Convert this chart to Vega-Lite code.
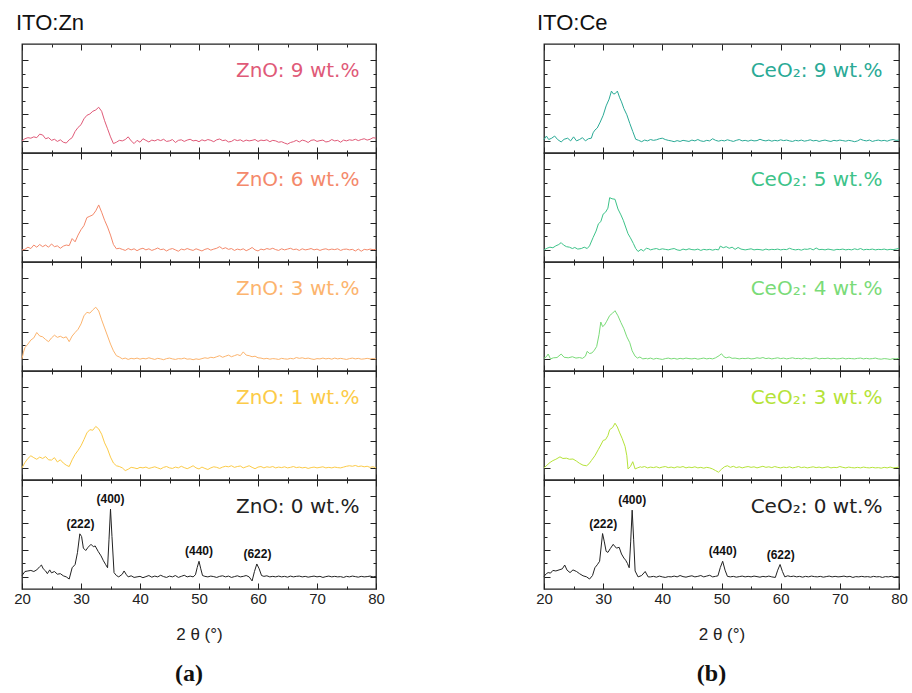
{
"$schema": "https://vega.github.io/schema/vega-lite/v6.json",
"background": "white",
"padding": {"left": 13, "top": 11, "right": 5, "bottom": 5},
"config": {"view": {"stroke": "#222", "strokeWidth": 1.3}, "title": {"font": "Liberation Sans", "fontWeight": "normal", "color": "#111"}},
"datasets": {
"labels": [
{"s":"Zn9","label":"ZnO: 9 wt.%"},{"s":"Zn6","label":"ZnO: 6 wt.%"},{"s":"Zn3","label":"ZnO: 3 wt.%"},{"s":"Zn1","label":"ZnO: 1 wt.%"},{"s":"Zn0","label":"ZnO: 0 wt.%"},
{"s":"Ce9","label":"CeO₂: 9 wt.%"},{"s":"Ce5","label":"CeO₂: 5 wt.%"},{"s":"Ce4","label":"CeO₂: 4 wt.%"},{"s":"Ce3","label":"CeO₂: 3 wt.%"},{"s":"Ce0","label":"CeO₂: 0 wt.%"}
],
"peaks": [
{"c":"Zn","hkl":"(222)","x":29.9,"y":1.61},{"c":"Zn","hkl":"(400)","x":35.0,"y":2.52},{"c":"Zn","hkl":"(440)","x":50.0,"y":0.58},{"c":"Zn","hkl":"(622)","x":59.9,"y":0.48},
{"c":"Ce","hkl":"(222)","x":30.0,"y":1.61},{"c":"Ce","hkl":"(400)","x":34.9,"y":2.48},{"c":"Ce","hkl":"(440)","x":50.2,"y":0.58},{"c":"Ce","hkl":"(622)","x":60.0,"y":0.46}
],
"Zn9": [
{"x":20,"y":0},{"x":20.5,"y":0.08},{"x":21,"y":0.12},{"x":21.5,"y":0.1},{"x":22,"y":0.15},{"x":22.5,"y":0.12},{"x":23,"y":0.25},{"x":23.5,"y":0.22},{"x":24,"y":0.08},{"x":24.5,"y":0.12},{"x":25,"y":0.02},{"x":25.5,"y":0.06},{"x":26,"y":-0.02},{"x":26.5,"y":0.04},{"x":27,"y":-0.05},{"x":27.5,"y":-0.08},{"x":28,"y":0.04},{"x":28.5,"y":0.12},{"x":29,"y":0.35},{"x":29.5,"y":0.5},{"x":30,"y":0.6},{"x":30.5,"y":0.82},{"x":31,"y":0.95},{"x":31.5,"y":1.0},{"x":32,"y":1.1},{"x":32.5,"y":1.15},{"x":33,"y":1.25},{"x":33.5,"y":1.1},{"x":34,"y":0.75},{"x":34.5,"y":0.45},{"x":35,"y":0.15},{"x":35.5,"y":-0.1},{"x":36,"y":-0.05},{"x":36.5,"y":0.02},{"x":37,"y":0},{"x":37.5,"y":0.05},{"x":38,"y":0.15},{"x":38.5,"y":0},{"x":39,"y":-0.1},{"x":39.5,"y":0.02},{"x":40,"y":-0.05},{"x":40.5,"y":0.08},{"x":41,"y":0.02},{"x":41.5,"y":-0.04},{"x":42,"y":0.03},{"x":42.5,"y":0},{"x":43,"y":0.05},{"x":43.5,"y":0.01},{"x":44,"y":0.06},{"x":44.5,"y":-0.02},{"x":45,"y":0},{"x":45.5,"y":0.05},{"x":46,"y":-0.06},{"x":46.5,"y":0.02},{"x":47,"y":0.04},{"x":47.5,"y":-0.02},{"x":48,"y":0.03},{"x":48.5,"y":0.06},{"x":49,"y":0},{"x":49.5,"y":0.02},{"x":50,"y":-0.03},{"x":50.5,"y":0.04},{"x":51,"y":0},{"x":51.5,"y":0.05},{"x":52,"y":0.02},{"x":52.5,"y":-0.03},{"x":53,"y":0.04},{"x":53.5,"y":0.07},{"x":54,"y":0.01},{"x":54.5,"y":0.03},{"x":55,"y":-0.04},{"x":55.5,"y":-0.02},{"x":56,"y":0.05},{"x":56.5,"y":0.01},{"x":57,"y":0.04},{"x":57.5,"y":-0.02},{"x":58,"y":0.03},{"x":58.5,"y":0},{"x":59,"y":0.02},{"x":59.5,"y":0.05},{"x":60,"y":-0.02},{"x":60.5,"y":0.03},{"x":61,"y":0.01},{"x":61.5,"y":0.04},{"x":62,"y":-0.03},{"x":62.5,"y":0.02},{"x":63,"y":0},{"x":63.5,"y":-0.05},{"x":64,"y":-0.03},{"x":64.5,"y":-0.08},{"x":65,"y":-0.12},{"x":65.5,"y":-0.06},{"x":66,"y":-0.03},{"x":66.5,"y":0.02},{"x":67,"y":-0.04},{"x":67.5,"y":0.03},{"x":68,"y":0},{"x":68.5,"y":-0.06},{"x":69,"y":0.02},{"x":69.5,"y":0.04},{"x":70,"y":-0.02},{"x":70.5,"y":0.01},{"x":71,"y":0.03},{"x":71.5,"y":-0.04},{"x":72,"y":-0.02},{"x":72.5,"y":0.05},{"x":73,"y":0},{"x":73.5,"y":0.02},{"x":74,"y":-0.05},{"x":74.5,"y":0.03},{"x":75,"y":0},{"x":75.5,"y":0.04},{"x":76,"y":0.02},{"x":76.5,"y":0.06},{"x":77,"y":0.01},{"x":77.5,"y":0.05},{"x":78,"y":0.08},{"x":78.5,"y":0.03},{"x":79,"y":0.06},{"x":79.5,"y":0.12},{"x":80,"y":0.1}
],
"Zn6": [
{"x":20,"y":0},{"x":20.5,"y":0.02},{"x":21,"y":0.1},{"x":21.5,"y":0.05},{"x":22,"y":0.18},{"x":22.5,"y":0.1},{"x":23,"y":0.2},{"x":23.5,"y":0.12},{"x":24,"y":0.18},{"x":24.5,"y":0.1},{"x":25,"y":0.22},{"x":25.5,"y":0.12},{"x":26,"y":0.15},{"x":26.5,"y":0.06},{"x":27,"y":0.14},{"x":27.5,"y":0.18},{"x":28,"y":0.16},{"x":28.5,"y":0.42},{"x":29,"y":0.3},{"x":29.5,"y":0.55},{"x":30,"y":0.75},{"x":30.5,"y":0.9},{"x":31,"y":1.2},{"x":31.5,"y":1.25},{"x":32,"y":1.3},{"x":32.5,"y":1.45},{"x":33,"y":1.67},{"x":33.5,"y":1.4},{"x":34,"y":1.1},{"x":34.5,"y":0.85},{"x":35,"y":0.55},{"x":35.5,"y":0.2},{"x":36,"y":0.04},{"x":36.5,"y":0.06},{"x":37,"y":0.02},{"x":37.5,"y":-0.02},{"x":38,"y":0.05},{"x":38.5,"y":0},{"x":39,"y":0.04},{"x":39.5,"y":-0.03},{"x":40,"y":0.03},{"x":40.5,"y":0.06},{"x":41,"y":0},{"x":41.5,"y":0.04},{"x":42,"y":-0.02},{"x":42.5,"y":0.02},{"x":43,"y":0.07},{"x":43.5,"y":0.01},{"x":44,"y":0.03},{"x":44.5,"y":-0.04},{"x":45,"y":0.02},{"x":45.5,"y":0.05},{"x":46,"y":0},{"x":46.5,"y":-0.05},{"x":47,"y":0.03},{"x":47.5,"y":0},{"x":48,"y":0.05},{"x":48.5,"y":0.01},{"x":49,"y":-0.02},{"x":49.5,"y":0.04},{"x":50,"y":0},{"x":50.5,"y":-0.04},{"x":51,"y":0.02},{"x":51.5,"y":0.05},{"x":52,"y":-0.01},{"x":52.5,"y":0.03},{"x":53,"y":0.06},{"x":53.5,"y":0.12},{"x":54,"y":0.04},{"x":54.5,"y":0.08},{"x":55,"y":0.02},{"x":55.5,"y":0.05},{"x":56,"y":-0.02},{"x":56.5,"y":0.03},{"x":57,"y":0},{"x":57.5,"y":0.04},{"x":58,"y":-0.03},{"x":58.5,"y":0.02},{"x":59,"y":0.09},{"x":59.5,"y":0},{"x":60,"y":-0.04},{"x":60.5,"y":0.03},{"x":61,"y":0},{"x":61.5,"y":0.05},{"x":62,"y":0.02},{"x":62.5,"y":0.06},{"x":63,"y":0.01},{"x":63.5,"y":-0.02},{"x":64,"y":0.04},{"x":64.5,"y":0},{"x":65,"y":0.03},{"x":65.5,"y":0.06},{"x":66,"y":0.01},{"x":66.5,"y":0.03},{"x":67,"y":-0.02},{"x":67.5,"y":0.04},{"x":68,"y":0},{"x":68.5,"y":0.02},{"x":69,"y":0.05},{"x":69.5,"y":0},{"x":70,"y":0.03},{"x":70.5,"y":-0.02},{"x":71,"y":0.02},{"x":71.5,"y":0.04},{"x":72,"y":0},{"x":72.5,"y":0.03},{"x":73,"y":0.01},{"x":73.5,"y":0.04},{"x":74,"y":-0.02},{"x":74.5,"y":0.02},{"x":75,"y":0.03},{"x":75.5,"y":0},{"x":76,"y":0.02},{"x":76.5,"y":-0.04},{"x":77,"y":0.03},{"x":77.5,"y":-0.05},{"x":78,"y":0.02},{"x":78.5,"y":0},{"x":79,"y":0.03},{"x":79.5,"y":0.01},{"x":80,"y":0.02}
],
"Zn3": [
{"x":20,"y":0},{"x":20.25,"y":0.25},{"x":20.5,"y":0.42},{"x":21,"y":0.55},{"x":21.5,"y":0.7},{"x":22,"y":0.78},{"x":22.5,"y":0.98},{"x":23,"y":0.85},{"x":23.5,"y":0.82},{"x":24,"y":0.72},{"x":24.5,"y":0.64},{"x":25,"y":0.78},{"x":25.5,"y":0.88},{"x":26,"y":0.8},{"x":26.5,"y":0.84},{"x":27,"y":0.78},{"x":27.5,"y":0.82},{"x":28,"y":0.64},{"x":28.5,"y":0.85},{"x":29,"y":0.98},{"x":29.5,"y":1.1},{"x":30,"y":1.3},{"x":30.5,"y":1.6},{"x":31,"y":1.73},{"x":31.5,"y":1.7},{"x":32,"y":1.82},{"x":32.5,"y":1.92},{"x":33,"y":1.78},{"x":33.5,"y":1.45},{"x":34,"y":1.15},{"x":34.5,"y":0.85},{"x":35,"y":0.55},{"x":35.5,"y":0.3},{"x":36,"y":0.12},{"x":36.5,"y":0.07},{"x":37,"y":0},{"x":37.5,"y":0.03},{"x":38,"y":-0.02},{"x":38.5,"y":0.02},{"x":39,"y":0},{"x":39.5,"y":0.03},{"x":40,"y":-0.01},{"x":40.5,"y":0.02},{"x":41,"y":0},{"x":41.5,"y":0.04},{"x":42,"y":0.01},{"x":42.5,"y":-0.02},{"x":43,"y":0.02},{"x":43.5,"y":0},{"x":44,"y":-0.03},{"x":44.5,"y":0.01},{"x":45,"y":0.03},{"x":45.5,"y":0},{"x":46,"y":-0.02},{"x":46.5,"y":0.01},{"x":47,"y":0},{"x":47.5,"y":0.03},{"x":48,"y":-0.01},{"x":48.5,"y":0},{"x":49,"y":-0.03},{"x":49.5,"y":0},{"x":50,"y":-0.02},{"x":50.5,"y":0.01},{"x":51,"y":0.04},{"x":51.5,"y":0.02},{"x":52,"y":0.06},{"x":52.5,"y":0.04},{"x":53,"y":0.08},{"x":53.5,"y":0.12},{"x":54,"y":0.06},{"x":54.5,"y":0.1},{"x":55,"y":0.14},{"x":55.5,"y":0.08},{"x":56,"y":0.12},{"x":56.5,"y":0.16},{"x":57,"y":0.12},{"x":57.5,"y":0.26},{"x":58,"y":0.14},{"x":58.5,"y":0.12},{"x":59,"y":0.08},{"x":59.5,"y":0.1},{"x":60,"y":0.04},{"x":60.5,"y":0.03},{"x":61,"y":0},{"x":61.5,"y":0.02},{"x":62,"y":-0.01},{"x":62.5,"y":0.01},{"x":63,"y":0},{"x":63.5,"y":-0.02},{"x":64,"y":0.02},{"x":64.5,"y":0},{"x":65,"y":-0.01},{"x":65.5,"y":0.02},{"x":66,"y":0},{"x":66.5,"y":0.05},{"x":67,"y":0.02},{"x":67.5,"y":0.04},{"x":68,"y":0.01},{"x":68.5,"y":0.03},{"x":69,"y":0},{"x":69.5,"y":-0.02},{"x":70,"y":0.01},{"x":70.5,"y":0},{"x":71,"y":0.03},{"x":71.5,"y":0},{"x":72,"y":0.02},{"x":72.5,"y":-0.01},{"x":73,"y":0.03},{"x":73.5,"y":0},{"x":74,"y":0.02},{"x":74.5,"y":0},{"x":75,"y":-0.02},{"x":75.5,"y":0.01},{"x":76,"y":0.03},{"x":76.5,"y":0},{"x":77,"y":0.02},{"x":77.5,"y":-0.01},{"x":78,"y":0},{"x":78.5,"y":0.02},{"x":79,"y":0},{"x":79.5,"y":0.01},{"x":80,"y":0}
],
"Zn1": [
{"x":20,"y":0},{"x":20.5,"y":0.2},{"x":21,"y":0.35},{"x":21.5,"y":0.45},{"x":22,"y":0.38},{"x":22.5,"y":0.32},{"x":23,"y":0.4},{"x":23.5,"y":0.35},{"x":24,"y":0.42},{"x":24.5,"y":0.3},{"x":25,"y":0.29},{"x":25.5,"y":0.38},{"x":26,"y":0.22},{"x":26.5,"y":0.3},{"x":27,"y":0.18},{"x":27.5,"y":0.1},{"x":28,"y":0.05},{"x":28.5,"y":0.3},{"x":29,"y":0.5},{"x":29.5,"y":0.65},{"x":30,"y":0.82},{"x":30.5,"y":1.05},{"x":31,"y":1.3},{"x":31.5,"y":1.42},{"x":32,"y":1.4},{"x":32.5,"y":1.54},{"x":33,"y":1.45},{"x":33.5,"y":1.25},{"x":34,"y":0.93},{"x":34.5,"y":0.7},{"x":35,"y":0.4},{"x":35.5,"y":0.18},{"x":36,"y":0.08},{"x":36.5,"y":0.05},{"x":37,"y":0},{"x":37.5,"y":-0.1},{"x":38,"y":-0.05},{"x":38.5,"y":0.02},{"x":39,"y":0},{"x":39.5,"y":-0.03},{"x":40,"y":0.02},{"x":40.5,"y":0},{"x":41,"y":0.03},{"x":41.5,"y":-0.02},{"x":42,"y":0.01},{"x":42.5,"y":0.04},{"x":43,"y":0},{"x":43.5,"y":-0.04},{"x":44,"y":0.02},{"x":44.5,"y":0.05},{"x":45,"y":0},{"x":45.5,"y":-0.02},{"x":46,"y":0.03},{"x":46.5,"y":0},{"x":47,"y":0.06},{"x":47.5,"y":0.01},{"x":48,"y":-0.03},{"x":48.5,"y":0.02},{"x":49,"y":0.08},{"x":49.5,"y":0},{"x":50,"y":-0.04},{"x":50.5,"y":0.03},{"x":51,"y":-0.02},{"x":51.5,"y":-0.06},{"x":52,"y":0},{"x":52.5,"y":0.04},{"x":53,"y":0.02},{"x":53.5,"y":-0.02},{"x":54,"y":0.03},{"x":54.5,"y":0.06},{"x":55,"y":0.04},{"x":55.5,"y":0.08},{"x":56,"y":0.02},{"x":56.5,"y":0.05},{"x":57,"y":0.07},{"x":57.5,"y":0},{"x":58,"y":0.04},{"x":58.5,"y":0.08},{"x":59,"y":0.02},{"x":59.5,"y":-0.03},{"x":60,"y":0.03},{"x":60.5,"y":0.05},{"x":61,"y":0},{"x":61.5,"y":0.04},{"x":62,"y":0.02},{"x":62.5,"y":0.05},{"x":63,"y":0},{"x":63.5,"y":0.03},{"x":64,"y":0.01},{"x":64.5,"y":0.04},{"x":65,"y":0},{"x":65.5,"y":0.02},{"x":66,"y":0.05},{"x":66.5,"y":0.01},{"x":67,"y":0.03},{"x":67.5,"y":0},{"x":68,"y":0.02},{"x":68.5,"y":-0.02},{"x":69,"y":0.01},{"x":69.5,"y":0.03},{"x":70,"y":0},{"x":70.5,"y":0.02},{"x":71,"y":0.04},{"x":71.5,"y":0},{"x":72,"y":0.02},{"x":72.5,"y":0},{"x":73,"y":0.03},{"x":73.5,"y":0.01},{"x":74,"y":0},{"x":74.5,"y":0.03},{"x":75,"y":0.06},{"x":75.5,"y":0.08},{"x":76,"y":0.06},{"x":76.5,"y":0.09},{"x":77,"y":0.05},{"x":77.5,"y":0.07},{"x":78,"y":0.04},{"x":78.5,"y":0.06},{"x":79,"y":0.02},{"x":79.5,"y":0.04},{"x":80,"y":0}
],
"Zn0": [
{"x":20,"y":0.05},{"x":20.5,"y":0.2},{"x":21,"y":0.22},{"x":21.5,"y":0.24},{"x":22,"y":0.2},{"x":22.5,"y":0.26},{"x":23,"y":0.38},{"x":23.3,"y":0.44},{"x":23.6,"y":0.3},{"x":24,"y":0.22},{"x":24.3,"y":0.12},{"x":24.7,"y":0.26},{"x":25,"y":0.15},{"x":25.5,"y":0.2},{"x":26,"y":0.1},{"x":26.5,"y":0.12},{"x":27,"y":0.04},{"x":27.5,"y":0},{"x":28,"y":-0.08},{"x":28.5,"y":0.34},{"x":29,"y":0.46},{"x":29.4,"y":0.9},{"x":29.8,"y":1.6},{"x":30.1,"y":1.5},{"x":30.4,"y":1.07},{"x":30.8,"y":0.98},{"x":31.2,"y":1.1},{"x":31.7,"y":1.21},{"x":32.1,"y":1.12},{"x":32.4,"y":1.15},{"x":32.9,"y":0.95},{"x":33.4,"y":0.78},{"x":33.8,"y":0.6},{"x":34.2,"y":0.45},{"x":34.5,"y":0.34},{"x":34.75,"y":1.4},{"x":35,"y":2.52},{"x":35.25,"y":1.5},{"x":35.6,"y":0.16},{"x":36,"y":0.05},{"x":36.4,"y":0},{"x":37,"y":0.1},{"x":37.3,"y":0.22},{"x":37.7,"y":0.08},{"x":38,"y":0},{"x":38.5,"y":0.04},{"x":39,"y":-0.02},{"x":39.5,"y":0},{"x":40,"y":0.02},{"x":40.5,"y":-0.03},{"x":41,"y":0.01},{"x":41.5,"y":0.05},{"x":42,"y":-0.01},{"x":42.5,"y":0.03},{"x":43,"y":0},{"x":43.5,"y":0.06},{"x":44,"y":0.01},{"x":44.5,"y":-0.02},{"x":45,"y":0.03},{"x":45.5,"y":0},{"x":46,"y":0.05},{"x":46.5,"y":-0.02},{"x":47,"y":0.02},{"x":47.5,"y":0.06},{"x":48,"y":0},{"x":48.5,"y":0.03},{"x":49,"y":0},{"x":49.4,"y":0.08},{"x":49.7,"y":0.35},{"x":50,"y":0.58},{"x":50.3,"y":0.3},{"x":50.6,"y":0.05},{"x":51,"y":0.02},{"x":51.5,"y":0},{"x":52,"y":0.03},{"x":52.5,"y":0.01},{"x":53,"y":-0.02},{"x":53.5,"y":0.02},{"x":54,"y":0.04},{"x":54.5,"y":0},{"x":55,"y":0.03},{"x":55.5,"y":-0.02},{"x":56,"y":0.01},{"x":56.5,"y":0.04},{"x":57,"y":0},{"x":57.5,"y":0.02},{"x":58,"y":0.05},{"x":58.5,"y":0},{"x":59,"y":-0.15},{"x":59.4,"y":0.2},{"x":59.8,"y":0.48},{"x":60.2,"y":0.3},{"x":60.6,"y":0.05},{"x":61,"y":0.02},{"x":61.5,"y":0.04},{"x":62,"y":0},{"x":62.5,"y":0.02},{"x":63,"y":0},{"x":63.5,"y":0.03},{"x":64,"y":0},{"x":64.5,"y":0.02},{"x":65,"y":-0.01},{"x":65.5,"y":0.03},{"x":66,"y":0},{"x":66.5,"y":0.02},{"x":67,"y":0.03},{"x":67.5,"y":0},{"x":68,"y":0.02},{"x":68.5,"y":-0.01},{"x":69,"y":0.01},{"x":69.5,"y":0.03},{"x":70,"y":0},{"x":70.5,"y":0.02},{"x":71,"y":-0.02},{"x":71.5,"y":0.01},{"x":72,"y":0.03},{"x":72.5,"y":0},{"x":73,"y":0.02},{"x":73.5,"y":0},{"x":74,"y":0.01},{"x":74.5,"y":-0.02},{"x":75,"y":0.02},{"x":75.5,"y":0},{"x":76,"y":0.03},{"x":76.5,"y":0.01},{"x":77,"y":-0.01},{"x":77.5,"y":0.02},{"x":78,"y":0},{"x":78.5,"y":0.01},{"x":79,"y":0.03},{"x":79.5,"y":0},{"x":80,"y":0.02}
],
"Ce9": [
{"x":20,"y":0.05},{"x":20.4,"y":0.18},{"x":20.8,"y":0.05},{"x":21.3,"y":0.1},{"x":21.8,"y":0.18},{"x":22.3,"y":0.05},{"x":22.9,"y":-0.04},{"x":23.4,"y":0.06},{"x":24,"y":0.1},{"x":24.5,"y":0},{"x":25,"y":0.15},{"x":25.5,"y":0},{"x":26,"y":0.05},{"x":26.5,"y":0.12},{"x":27,"y":0},{"x":27.5,"y":0.08},{"x":28,"y":0.1},{"x":28.3,"y":0.3},{"x":28.6,"y":0.4},{"x":29,"y":0.48},{"x":29.5,"y":0.7},{"x":30,"y":0.95},{"x":30.5,"y":1.3},{"x":31,"y":1.55},{"x":31.4,"y":1.85},{"x":31.7,"y":1.75},{"x":32,"y":1.75},{"x":32.4,"y":1.85},{"x":32.8,"y":1.6},{"x":33.1,"y":1.45},{"x":33.5,"y":1.2},{"x":34,"y":0.97},{"x":34.5,"y":0.65},{"x":35,"y":0.35},{"x":35.5,"y":0.06},{"x":36,"y":0.02},{"x":36.5,"y":-0.03},{"x":37,"y":0.03},{"x":37.5,"y":0},{"x":38,"y":0.05},{"x":38.5,"y":0.02},{"x":39,"y":0.04},{"x":39.5,"y":0.08},{"x":40,"y":0.1},{"x":40.5,"y":0.05},{"x":41,"y":0.02},{"x":41.5,"y":0},{"x":42,"y":-0.03},{"x":42.5,"y":0.01},{"x":43,"y":-0.02},{"x":43.5,"y":0.02},{"x":44,"y":0},{"x":44.5,"y":-0.02},{"x":45,"y":0.03},{"x":45.5,"y":0},{"x":46,"y":0.05},{"x":46.5,"y":0},{"x":47,"y":-0.02},{"x":47.5,"y":0.02},{"x":48,"y":0},{"x":48.5,"y":0.08},{"x":49,"y":0.02},{"x":49.5,"y":-0.01},{"x":50,"y":0.02},{"x":50.5,"y":0},{"x":51,"y":0.04},{"x":51.5,"y":0.01},{"x":52,"y":-0.02},{"x":52.5,"y":0.02},{"x":53,"y":0.05},{"x":53.5,"y":0},{"x":54,"y":0.02},{"x":54.5,"y":-0.01},{"x":55,"y":0.03},{"x":55.5,"y":0},{"x":56,"y":0.01},{"x":56.5,"y":0.06},{"x":57,"y":0.02},{"x":57.5,"y":0},{"x":58,"y":0.03},{"x":58.5,"y":-0.01},{"x":59,"y":0.02},{"x":59.5,"y":0},{"x":60,"y":0.04},{"x":60.5,"y":0.01},{"x":61,"y":0.03},{"x":61.5,"y":0},{"x":62,"y":-0.02},{"x":62.5,"y":0.02},{"x":63,"y":0},{"x":63.5,"y":0.03},{"x":64,"y":-0.01},{"x":64.5,"y":0.01},{"x":65,"y":0.04},{"x":65.5,"y":0},{"x":66,"y":0.02},{"x":66.5,"y":-0.02},{"x":67,"y":0.01},{"x":67.5,"y":0.03},{"x":68,"y":0},{"x":68.5,"y":-0.02},{"x":69,"y":0.02},{"x":69.5,"y":0},{"x":70,"y":0.03},{"x":70.5,"y":0.01},{"x":71,"y":-0.01},{"x":71.5,"y":0.02},{"x":72,"y":0},{"x":72.5,"y":-0.03},{"x":73,"y":0},{"x":73.5,"y":0.06},{"x":74,"y":0.02},{"x":74.5,"y":0},{"x":75,"y":0.03},{"x":75.5,"y":-0.02},{"x":76,"y":0.01},{"x":76.5,"y":0.03},{"x":77,"y":0},{"x":77.5,"y":0.02},{"x":78,"y":-0.01},{"x":78.5,"y":0.03},{"x":79,"y":0.05},{"x":79.5,"y":0.02},{"x":80,"y":0.03}
],
"Ce5": [
{"x":20,"y":0},{"x":20.5,"y":0.06},{"x":21,"y":0.1},{"x":21.5,"y":0.08},{"x":22,"y":0.15},{"x":22.5,"y":0.2},{"x":22.9,"y":0.27},{"x":23.3,"y":0.18},{"x":23.8,"y":0.12},{"x":24.3,"y":0.1},{"x":24.8,"y":0.05},{"x":25.2,"y":0.09},{"x":25.7,"y":0.03},{"x":26.3,"y":0.05},{"x":26.8,"y":0.1},{"x":27.3,"y":0.05},{"x":27.7,"y":0.15},{"x":28.3,"y":0.46},{"x":28.8,"y":0.7},{"x":29.2,"y":0.97},{"x":29.6,"y":1.05},{"x":30,"y":1.33},{"x":30.4,"y":1.4},{"x":30.8,"y":1.55},{"x":31.1,"y":1.94},{"x":31.5,"y":1.9},{"x":32,"y":1.88},{"x":32.5,"y":1.52},{"x":33,"y":1.3},{"x":33.4,"y":1.1},{"x":33.8,"y":0.85},{"x":34.2,"y":0.6},{"x":34.6,"y":0.45},{"x":35.1,"y":0.24},{"x":35.5,"y":0.05},{"x":35.9,"y":-0.06},{"x":36.4,"y":0.02},{"x":36.8,"y":-0.04},{"x":37.3,"y":0.06},{"x":37.7,"y":0.04},{"x":38,"y":0},{"x":38.5,"y":0.03},{"x":39,"y":0.05},{"x":39.5,"y":0.01},{"x":40,"y":0.04},{"x":40.5,"y":0.02},{"x":41,"y":0},{"x":41.5,"y":0.03},{"x":42,"y":0.05},{"x":42.5,"y":0},{"x":43,"y":-0.02},{"x":43.5,"y":0.03},{"x":44,"y":0},{"x":44.5,"y":0.04},{"x":45,"y":0.01},{"x":45.5,"y":0},{"x":46,"y":0.03},{"x":46.5,"y":-0.02},{"x":47,"y":0.02},{"x":47.5,"y":0},{"x":48,"y":0.02},{"x":48.5,"y":-0.01},{"x":49,"y":0.02},{"x":49.5,"y":0},{"x":49.8,"y":0.14},{"x":50.3,"y":0.08},{"x":50.8,"y":0.12},{"x":51.3,"y":0.06},{"x":51.8,"y":0.1},{"x":52.3,"y":0.02},{"x":52.8,"y":0.09},{"x":53.3,"y":0.03},{"x":54,"y":0},{"x":54.5,"y":0.02},{"x":55,"y":0.04},{"x":55.5,"y":0},{"x":56,"y":0.02},{"x":56.5,"y":0.01},{"x":57,"y":-0.01},{"x":57.5,"y":0.03},{"x":58,"y":0},{"x":58.5,"y":0.02},{"x":59,"y":0.01},{"x":59.5,"y":0.03},{"x":60,"y":0},{"x":60.5,"y":0.02},{"x":61,"y":0.01},{"x":61.5,"y":0.06},{"x":62,"y":0.02},{"x":62.5,"y":0},{"x":63,"y":0.02},{"x":63.5,"y":-0.01},{"x":64,"y":0.03},{"x":64.5,"y":0.02},{"x":65,"y":0.05},{"x":65.5,"y":0},{"x":66,"y":0.07},{"x":66.5,"y":0.01},{"x":67,"y":0.02},{"x":67.5,"y":0},{"x":68,"y":0.03},{"x":68.5,"y":0.01},{"x":69,"y":-0.01},{"x":69.5,"y":0.02},{"x":70,"y":0.01},{"x":70.5,"y":0.03},{"x":71,"y":0},{"x":71.5,"y":0.02},{"x":72,"y":0},{"x":72.5,"y":0.04},{"x":73,"y":0.01},{"x":73.5,"y":0.05},{"x":74,"y":0},{"x":74.5,"y":0.02},{"x":75,"y":0.01},{"x":75.5,"y":0.03},{"x":76,"y":0},{"x":76.5,"y":0.02},{"x":77,"y":0.01},{"x":77.5,"y":0.03},{"x":78,"y":0},{"x":78.5,"y":0.02},{"x":79,"y":0.01},{"x":79.5,"y":0.03},{"x":80,"y":0.06}
],
"Ce4": [
{"x":20,"y":0.02},{"x":20.4,"y":0.08},{"x":20.7,"y":0.18},{"x":21.1,"y":0},{"x":21.6,"y":0.04},{"x":22.2,"y":0.05},{"x":22.9,"y":0.18},{"x":23.4,"y":0.06},{"x":24.1,"y":0.04},{"x":24.8,"y":0.08},{"x":25.4,"y":0.03},{"x":26,"y":0.05},{"x":26.5,"y":0.02},{"x":27,"y":0.1},{"x":27.3,"y":0.28},{"x":27.7,"y":0.2},{"x":28.1,"y":0.22},{"x":28.5,"y":0.32},{"x":28.9,"y":0.46},{"x":29.3,"y":0.9},{"x":29.6,"y":1.37},{"x":29.9,"y":1.2},{"x":30.2,"y":1.25},{"x":30.6,"y":1.4},{"x":31.1,"y":1.61},{"x":31.6,"y":1.7},{"x":32,"y":1.79},{"x":32.5,"y":1.6},{"x":33,"y":1.35},{"x":33.5,"y":1.12},{"x":34,"y":0.82},{"x":34.5,"y":0.6},{"x":34.9,"y":0.3},{"x":35.4,"y":0.1},{"x":35.8,"y":0.03},{"x":36.2,"y":0.07},{"x":36.7,"y":0},{"x":37.3,"y":0.02},{"x":37.5,"y":0},{"x":38,"y":0.03},{"x":38.5,"y":-0.01},{"x":39,"y":0.02},{"x":39.5,"y":0},{"x":40,"y":-0.02},{"x":40.5,"y":0.01},{"x":41,"y":0.03},{"x":41.5,"y":0},{"x":42,"y":0.02},{"x":42.5,"y":-0.01},{"x":43,"y":0.02},{"x":43.5,"y":0},{"x":44,"y":0.03},{"x":44.5,"y":0.01},{"x":45,"y":0},{"x":45.5,"y":0.02},{"x":46,"y":-0.01},{"x":46.5,"y":0.01},{"x":47,"y":0.03},{"x":47.5,"y":0},{"x":48,"y":0.02},{"x":48.5,"y":0},{"x":49,"y":0.04},{"x":49.6,"y":0.12},{"x":50,"y":0.19},{"x":50.4,"y":0.08},{"x":50.8,"y":0.04},{"x":51.3,"y":0.07},{"x":51.8,"y":0.02},{"x":52.3,"y":0.03},{"x":53,"y":0},{"x":53.5,"y":0.02},{"x":54,"y":0.01},{"x":54.5,"y":0.03},{"x":55,"y":0},{"x":55.5,"y":0.01},{"x":56,"y":0.04},{"x":56.5,"y":0.02},{"x":57,"y":0.05},{"x":57.5,"y":0.01},{"x":58,"y":0.03},{"x":58.5,"y":0},{"x":59,"y":0.02},{"x":59.5,"y":0.04},{"x":60,"y":0.01},{"x":60.5,"y":0.03},{"x":61,"y":0},{"x":61.5,"y":0.02},{"x":62,"y":0.04},{"x":62.5,"y":0.01},{"x":63,"y":0.02},{"x":63.5,"y":0},{"x":64,"y":0.03},{"x":64.5,"y":0.01},{"x":65,"y":0},{"x":65.5,"y":0.02},{"x":66,"y":0.04},{"x":66.5,"y":0},{"x":67,"y":0.02},{"x":67.5,"y":0.01},{"x":68,"y":0.03},{"x":68.5,"y":0},{"x":69,"y":0.02},{"x":69.5,"y":0},{"x":70,"y":0.01},{"x":70.5,"y":0.03},{"x":71,"y":0},{"x":71.5,"y":0.02},{"x":72,"y":0.01},{"x":72.5,"y":0},{"x":73,"y":0.02},{"x":73.5,"y":0.03},{"x":74,"y":0},{"x":74.5,"y":0.02},{"x":75,"y":0},{"x":75.5,"y":0.01},{"x":76,"y":0.03},{"x":76.5,"y":0},{"x":77,"y":-0.01},{"x":77.5,"y":0.01},{"x":78,"y":0},{"x":78.5,"y":-0.02},{"x":79,"y":0.01},{"x":79.5,"y":0},{"x":80,"y":0.02}
],
"Ce3": [
{"x":20,"y":0},{"x":20.5,"y":0.1},{"x":21,"y":0.2},{"x":21.5,"y":0.27},{"x":22,"y":0.32},{"x":22.7,"y":0.41},{"x":23.2,"y":0.35},{"x":23.8,"y":0.36},{"x":24.3,"y":0.32},{"x":24.9,"y":0.33},{"x":25.5,"y":0.25},{"x":26,"y":0.17},{"x":26.6,"y":0.1},{"x":27.2,"y":0.08},{"x":27.6,"y":0.15},{"x":28,"y":0.27},{"x":28.6,"y":0.45},{"x":29.2,"y":0.69},{"x":29.6,"y":0.85},{"x":30,"y":1.02},{"x":30.4,"y":1.05},{"x":30.8,"y":1.2},{"x":31.1,"y":1.42},{"x":31.6,"y":1.5},{"x":32,"y":1.66},{"x":32.4,"y":1.52},{"x":32.8,"y":1.3},{"x":33.2,"y":1.1},{"x":33.7,"y":0.8},{"x":34,"y":0.45},{"x":34.2,"y":-0.04},{"x":34.6,"y":0.05},{"x":35,"y":0.23},{"x":35.4,"y":-0.04},{"x":35.8,"y":0},{"x":36.3,"y":0.04},{"x":36.5,"y":0.02},{"x":37,"y":0.05},{"x":37.5,"y":0},{"x":38,"y":0.03},{"x":38.5,"y":0.01},{"x":39,"y":0.04},{"x":39.5,"y":0},{"x":40,"y":0.03},{"x":40.5,"y":0.05},{"x":41,"y":0.01},{"x":41.5,"y":0.03},{"x":42,"y":0},{"x":42.5,"y":0.04},{"x":43,"y":0.02},{"x":43.5,"y":0.05},{"x":44,"y":0},{"x":44.5,"y":0.03},{"x":45,"y":0.01},{"x":45.5,"y":0.04},{"x":46,"y":0},{"x":46.5,"y":0.02},{"x":47,"y":-0.01},{"x":47.5,"y":0.02},{"x":48,"y":0},{"x":48.5,"y":-0.04},{"x":49,"y":-0.1},{"x":49.5,"y":-0.16},{"x":50,"y":-0.05},{"x":50.5,"y":0.04},{"x":51,"y":0.08},{"x":51.5,"y":0.02},{"x":52,"y":0.06},{"x":52.5,"y":0.01},{"x":53,"y":0.04},{"x":53.5,"y":0},{"x":54,"y":0.03},{"x":54.5,"y":0.05},{"x":55,"y":0.02},{"x":55.5,"y":0.04},{"x":56,"y":0},{"x":56.5,"y":0.03},{"x":57,"y":0.06},{"x":57.5,"y":0.02},{"x":58,"y":0.04},{"x":58.5,"y":0.01},{"x":59,"y":0.05},{"x":59.5,"y":0.02},{"x":60,"y":0},{"x":60.5,"y":0.03},{"x":61,"y":0.01},{"x":61.5,"y":0.04},{"x":62,"y":0},{"x":62.5,"y":0.02},{"x":63,"y":0.05},{"x":63.5,"y":0.01},{"x":64,"y":0.03},{"x":64.5,"y":0},{"x":65,"y":0.02},{"x":65.5,"y":0.04},{"x":66,"y":0.01},{"x":66.5,"y":0.03},{"x":67,"y":0},{"x":67.5,"y":0.02},{"x":68,"y":0.04},{"x":68.5,"y":0},{"x":69,"y":0.02},{"x":69.5,"y":0.01},{"x":70,"y":0.05},{"x":70.5,"y":0.02},{"x":71,"y":0},{"x":71.5,"y":0.03},{"x":72,"y":0.01},{"x":72.5,"y":0},{"x":73,"y":0.02},{"x":73.5,"y":0},{"x":74,"y":0.03},{"x":74.5,"y":0.01},{"x":75,"y":0},{"x":75.5,"y":0.02},{"x":76,"y":0},{"x":76.5,"y":0.01},{"x":77,"y":-0.01},{"x":77.5,"y":0.02},{"x":78,"y":0},{"x":78.5,"y":0.03},{"x":79,"y":0},{"x":79.5,"y":0.01},{"x":80,"y":0.03}
],
"Ce0": [
{"x":20,"y":0.02},{"x":20.4,"y":0.12},{"x":20.7,"y":0.16},{"x":21.1,"y":0.14},{"x":21.5,"y":0.24},{"x":22,"y":0.22},{"x":22.7,"y":0.27},{"x":23.1,"y":0.3},{"x":23.5,"y":0.44},{"x":23.9,"y":0.25},{"x":24.4,"y":0.16},{"x":24.9,"y":0.26},{"x":25.5,"y":0.2},{"x":26,"y":0.12},{"x":26.6,"y":0.04},{"x":27.2,"y":0},{"x":27.7,"y":-0.08},{"x":28.2,"y":0.05},{"x":28.6,"y":0.34},{"x":29,"y":0.45},{"x":29.4,"y":0.58},{"x":29.9,"y":1.61},{"x":30.2,"y":1.3},{"x":30.5,"y":0.95},{"x":30.8,"y":0.91},{"x":31.2,"y":1.05},{"x":31.7,"y":1.21},{"x":32,"y":1.12},{"x":32.3,"y":1.07},{"x":32.7,"y":1.1},{"x":33.1,"y":0.85},{"x":33.5,"y":0.7},{"x":33.8,"y":0.62},{"x":34.1,"y":0.5},{"x":34.4,"y":0.34},{"x":34.65,"y":1.3},{"x":34.9,"y":2.48},{"x":35.15,"y":1.4},{"x":35.4,"y":0.22},{"x":35.9,"y":0},{"x":36.5,"y":0.05},{"x":37.1,"y":0.2},{"x":37.6,"y":0},{"x":38,"y":0},{"x":38.5,"y":0.02},{"x":39,"y":-0.01},{"x":39.5,"y":0.03},{"x":40,"y":0},{"x":40.5,"y":-0.02},{"x":41,"y":0.01},{"x":41.5,"y":0},{"x":42,"y":0.03},{"x":42.5,"y":0},{"x":43,"y":0.05},{"x":43.5,"y":0.01},{"x":44,"y":-0.01},{"x":44.5,"y":0.02},{"x":45,"y":0.04},{"x":45.5,"y":0},{"x":46,"y":0.02},{"x":46.5,"y":0.05},{"x":47,"y":0},{"x":47.5,"y":0.03},{"x":48,"y":0.06},{"x":48.5,"y":0},{"x":49,"y":0.02},{"x":49.4,"y":0.04},{"x":49.8,"y":0.35},{"x":50.2,"y":0.58},{"x":50.6,"y":0.25},{"x":51,"y":0.02},{"x":51.5,"y":0},{"x":52,"y":0.02},{"x":52.5,"y":-0.01},{"x":53,"y":0.01},{"x":53.5,"y":0.03},{"x":54,"y":0},{"x":54.5,"y":0.02},{"x":55,"y":0},{"x":55.5,"y":0.03},{"x":56,"y":0.01},{"x":56.5,"y":-0.01},{"x":57,"y":0.02},{"x":57.5,"y":0},{"x":58,"y":0.03},{"x":58.5,"y":0},{"x":59.1,"y":-0.02},{"x":59.5,"y":0.25},{"x":59.9,"y":0.46},{"x":60.3,"y":0.2},{"x":60.7,"y":0},{"x":61.2,"y":0.04},{"x":61.7,"y":0.01},{"x":62.2,"y":0.03},{"x":62.7,"y":0},{"x":63.2,"y":0.02},{"x":63.7,"y":-0.01},{"x":64.2,"y":0.02},{"x":64.7,"y":0},{"x":65.2,"y":0.03},{"x":65.7,"y":0.01},{"x":66.2,"y":0},{"x":66.7,"y":0.02},{"x":67.2,"y":-0.01},{"x":67.7,"y":0.01},{"x":68.2,"y":0.03},{"x":68.7,"y":0},{"x":69.2,"y":0.02},{"x":69.7,"y":0},{"x":70.2,"y":0.01},{"x":70.7,"y":0.03},{"x":71.2,"y":0},{"x":71.7,"y":0.02},{"x":72.2,"y":-0.02},{"x":72.7,"y":0.01},{"x":73.2,"y":0},{"x":73.7,"y":0.02},{"x":74.2,"y":0},{"x":74.7,"y":0.01},{"x":75.2,"y":-0.01},{"x":75.7,"y":0.02},{"x":76.2,"y":0},{"x":76.7,"y":0.01},{"x":77.2,"y":-0.02},{"x":77.7,"y":0.01},{"x":78.2,"y":0},{"x":78.7,"y":0.02},{"x":79.2,"y":-0.01},{"x":79.7,"y":0.01},{"x":80,"y":0}
]
},
"spacing": 150,
"hconcat": [
{
"spacing": 0,
"bounds": "flush",
"title": {"text": "ITO:Zn", "anchor": "start", "dx": 3, "fontSize": 22, "offset": 8},
"vconcat": [
{"width": 354, "height": 109, "resolve": {"axis": {"x": "independent", "y": "independent"}}, "layer": [
{"data": {"name": "Zn9"}, "mark": {"type": "line", "color": "#E05A78", "strokeWidth": 1},
 "encoding": {"x": {"field": "x", "type": "quantitative", "scale": {"domain": [20, 80], "nice": false, "zero": false}, "axis": {"orient": "bottom", "values": [20,25,30,35,40,45,50,55,60,65,70,75,80], "labels": false, "domain": false, "grid": false, "title": null, "tickColor": "#222", "tickSize": {"condition": {"test": "datum.value % 10 === 0", "value": -6}, "value": -3}}},
  "y": {"field": "y", "type": "quantitative", "scale": {"domain": [-0.45, 3.6], "nice": false, "zero": false}, "axis": {"orient": "left", "values": [0,0.5,1,1.5,2,2.5,3], "labels": false, "domain": false, "grid": false, "title": null, "tickColor": "#222", "tickSize": {"condition": {"test": "datum.value % 1 === 0", "value": -6}, "value": -3}}}}},
{"data": {"name": "labels"}, "transform": [{"filter": "datum.s === 'Zn9'"}], "mark": {"type": "text", "align": "right", "baseline": "alphabetic", "font": "DejaVu Sans", "fontSize": 20, "color": "#E05A78"},
 "encoding": {"text": {"field": "label"}, "x": {"datum": 77.2, "type": "quantitative", "axis": {"orient": "top", "values": [20,25,30,35,40,45,50,55,60,65,70,75,80], "labels": false, "domain": false, "grid": false, "title": null, "tickColor": "#222", "tickSize": {"condition": {"test": "datum.value % 10 === 0", "value": -6}, "value": -3}}},
  "y": {"datum": 2.39, "type": "quantitative", "axis": {"orient": "right", "values": [0,0.5,1,1.5,2,2.5,3], "labels": false, "domain": false, "grid": false, "title": null, "tickColor": "#222", "tickSize": {"condition": {"test": "datum.value % 1 === 0", "value": -6}, "value": -3}}}}}
]},
{"width": 354, "height": 109, "resolve": {"axis": {"x": "independent", "y": "independent"}}, "layer": [
{"data": {"name": "Zn6"}, "mark": {"type": "line", "color": "#F4896B", "strokeWidth": 1},
 "encoding": {"x": {"field": "x", "type": "quantitative", "scale": {"domain": [20, 80], "nice": false, "zero": false}, "axis": {"orient": "bottom", "values": [20,25,30,35,40,45,50,55,60,65,70,75,80], "labels": false, "domain": false, "grid": false, "title": null, "tickColor": "#222", "tickSize": {"condition": {"test": "datum.value % 10 === 0", "value": -6}, "value": -3}}},
  "y": {"field": "y", "type": "quantitative", "scale": {"domain": [-0.45, 3.6], "nice": false, "zero": false}, "axis": {"orient": "left", "values": [0,0.5,1,1.5,2,2.5,3], "labels": false, "domain": false, "grid": false, "title": null, "tickColor": "#222", "tickSize": {"condition": {"test": "datum.value % 1 === 0", "value": -6}, "value": -3}}}}},
{"data": {"name": "labels"}, "transform": [{"filter": "datum.s === 'Zn6'"}], "mark": {"type": "text", "align": "right", "baseline": "alphabetic", "font": "DejaVu Sans", "fontSize": 20, "color": "#F4896B"},
 "encoding": {"text": {"field": "label"}, "x": {"datum": 77.2, "type": "quantitative", "axis": {"orient": "top", "values": [20,25,30,35,40,45,50,55,60,65,70,75,80], "labels": false, "domain": false, "grid": false, "title": null, "tickColor": "#222", "tickSize": {"condition": {"test": "datum.value % 10 === 0", "value": -6}, "value": -3}}},
  "y": {"datum": 2.39, "type": "quantitative", "axis": {"orient": "right", "values": [0,0.5,1,1.5,2,2.5,3], "labels": false, "domain": false, "grid": false, "title": null, "tickColor": "#222", "tickSize": {"condition": {"test": "datum.value % 1 === 0", "value": -6}, "value": -3}}}}}
]},
{"width": 354, "height": 109, "resolve": {"axis": {"x": "independent", "y": "independent"}}, "layer": [
{"data": {"name": "Zn3"}, "mark": {"type": "line", "color": "#FCB46E", "strokeWidth": 1},
 "encoding": {"x": {"field": "x", "type": "quantitative", "scale": {"domain": [20, 80], "nice": false, "zero": false}, "axis": {"orient": "bottom", "values": [20,25,30,35,40,45,50,55,60,65,70,75,80], "labels": false, "domain": false, "grid": false, "title": null, "tickColor": "#222", "tickSize": {"condition": {"test": "datum.value % 10 === 0", "value": -6}, "value": -3}}},
  "y": {"field": "y", "type": "quantitative", "scale": {"domain": [-0.45, 3.6], "nice": false, "zero": false}, "axis": {"orient": "left", "values": [0,0.5,1,1.5,2,2.5,3], "labels": false, "domain": false, "grid": false, "title": null, "tickColor": "#222", "tickSize": {"condition": {"test": "datum.value % 1 === 0", "value": -6}, "value": -3}}}}},
{"data": {"name": "labels"}, "transform": [{"filter": "datum.s === 'Zn3'"}], "mark": {"type": "text", "align": "right", "baseline": "alphabetic", "font": "DejaVu Sans", "fontSize": 20, "color": "#FCB46E"},
 "encoding": {"text": {"field": "label"}, "x": {"datum": 77.2, "type": "quantitative", "axis": {"orient": "top", "values": [20,25,30,35,40,45,50,55,60,65,70,75,80], "labels": false, "domain": false, "grid": false, "title": null, "tickColor": "#222", "tickSize": {"condition": {"test": "datum.value % 10 === 0", "value": -6}, "value": -3}}},
  "y": {"datum": 2.39, "type": "quantitative", "axis": {"orient": "right", "values": [0,0.5,1,1.5,2,2.5,3], "labels": false, "domain": false, "grid": false, "title": null, "tickColor": "#222", "tickSize": {"condition": {"test": "datum.value % 1 === 0", "value": -6}, "value": -3}}}}}
]},
{"width": 354, "height": 109, "resolve": {"axis": {"x": "independent", "y": "independent"}}, "layer": [
{"data": {"name": "Zn1"}, "mark": {"type": "line", "color": "#FCCB48", "strokeWidth": 1},
 "encoding": {"x": {"field": "x", "type": "quantitative", "scale": {"domain": [20, 80], "nice": false, "zero": false}, "axis": {"orient": "bottom", "values": [20,25,30,35,40,45,50,55,60,65,70,75,80], "labels": false, "domain": false, "grid": false, "title": null, "tickColor": "#222", "tickSize": {"condition": {"test": "datum.value % 10 === 0", "value": -6}, "value": -3}}},
  "y": {"field": "y", "type": "quantitative", "scale": {"domain": [-0.45, 3.6], "nice": false, "zero": false}, "axis": {"orient": "left", "values": [0,0.5,1,1.5,2,2.5,3], "labels": false, "domain": false, "grid": false, "title": null, "tickColor": "#222", "tickSize": {"condition": {"test": "datum.value % 1 === 0", "value": -6}, "value": -3}}}}},
{"data": {"name": "labels"}, "transform": [{"filter": "datum.s === 'Zn1'"}], "mark": {"type": "text", "align": "right", "baseline": "alphabetic", "font": "DejaVu Sans", "fontSize": 20, "color": "#FCCB48"},
 "encoding": {"text": {"field": "label"}, "x": {"datum": 77.2, "type": "quantitative", "axis": {"orient": "top", "values": [20,25,30,35,40,45,50,55,60,65,70,75,80], "labels": false, "domain": false, "grid": false, "title": null, "tickColor": "#222", "tickSize": {"condition": {"test": "datum.value % 10 === 0", "value": -6}, "value": -3}}},
  "y": {"datum": 2.39, "type": "quantitative", "axis": {"orient": "right", "values": [0,0.5,1,1.5,2,2.5,3], "labels": false, "domain": false, "grid": false, "title": null, "tickColor": "#222", "tickSize": {"condition": {"test": "datum.value % 1 === 0", "value": -6}, "value": -3}}}}}
]},
{"width": 354, "height": 109, "resolve": {"axis": {"x": "independent", "y": "independent"}},
 "title": {"text": "(a)", "orient": "bottom", "font": "Liberation Serif", "fontSize": 24, "fontWeight": "bold", "color": "#111", "dx": -10, "offset": 20},
 "layer": [
{"data": {"name": "Zn0"}, "mark": {"type": "line", "color": "#222", "strokeWidth": 1},
 "encoding": {"x": {"field": "x", "type": "quantitative", "scale": {"domain": [20, 80], "nice": false, "zero": false}, "axis": {"orient": "bottom", "values": [20,25,30,35,40,45,50,55,60,65,70,75,80], "labels": true, "labelExpr": "datum.value % 10 === 0 ? datum.label : ''", "labelFlush": false, "labelPadding": 8, "labelFont": "Liberation Sans", "labelFontSize": 15, "labelColor": "#222", "domain": false, "grid": false, "title": "2 θ (°)", "titleFont": "Liberation Sans", "titleFontSize": 17, "titleFontWeight": "normal", "titleColor": "#222", "titlePadding": 20, "tickColor": "#222", "tickSize": {"condition": {"test": "datum.value % 10 === 0", "value": -6}, "value": -3}}},
  "y": {"field": "y", "type": "quantitative", "scale": {"domain": [-0.45, 3.6], "nice": false, "zero": false}, "axis": {"orient": "left", "values": [0,0.5,1,1.5,2,2.5,3], "labels": false, "domain": false, "grid": false, "title": null, "tickColor": "#222", "tickSize": {"condition": {"test": "datum.value % 1 === 0", "value": -6}, "value": -3}}}}},
{"data": {"name": "labels"}, "transform": [{"filter": "datum.s === 'Zn0'"}], "mark": {"type": "text", "align": "right", "baseline": "alphabetic", "font": "DejaVu Sans", "fontSize": 20, "color": "#222"},
 "encoding": {"text": {"field": "label"}, "x": {"datum": 77.2, "type": "quantitative", "axis": {"orient": "top", "values": [20,25,30,35,40,45,50,55,60,65,70,75,80], "labels": false, "domain": false, "grid": false, "title": null, "tickColor": "#222", "tickSize": {"condition": {"test": "datum.value % 10 === 0", "value": -6}, "value": -3}}},
  "y": {"datum": 2.39, "type": "quantitative", "axis": {"orient": "right", "values": [0,0.5,1,1.5,2,2.5,3], "labels": false, "domain": false, "grid": false, "title": null, "tickColor": "#222", "tickSize": {"condition": {"test": "datum.value % 1 === 0", "value": -6}, "value": -3}}}}},
{"data": {"name": "peaks"}, "transform": [{"filter": "datum.c === 'Zn'"}], "mark": {"type": "text", "baseline": "bottom", "dy": -3, "font": "Liberation Sans", "fontSize": 12, "fontWeight": "bold", "color": "#111"},
 "encoding": {"text": {"field": "hkl"}, "x": {"field": "x", "type": "quantitative", "axis": null}, "y": {"field": "y", "type": "quantitative", "axis": null}}}
]}
]
},
{
"spacing": 0,
"bounds": "flush",
"title": {"text": "ITO:Ce", "anchor": "start", "dx": 2, "fontSize": 22, "offset": 8},
"vconcat": [
{"width": 355, "height": 109, "resolve": {"axis": {"x": "independent", "y": "independent"}}, "layer": [
{"data": {"name": "Ce9"}, "mark": {"type": "line", "color": "#2AAA96", "strokeWidth": 1},
 "encoding": {"x": {"field": "x", "type": "quantitative", "scale": {"domain": [20, 80], "nice": false, "zero": false}, "axis": {"orient": "bottom", "values": [20,25,30,35,40,45,50,55,60,65,70,75,80], "labels": false, "domain": false, "grid": false, "title": null, "tickColor": "#222", "tickSize": {"condition": {"test": "datum.value % 10 === 0", "value": -6}, "value": -3}}},
  "y": {"field": "y", "type": "quantitative", "scale": {"domain": [-0.45, 3.6], "nice": false, "zero": false}, "axis": {"orient": "left", "values": [0,0.5,1,1.5,2,2.5,3], "labels": false, "domain": false, "grid": false, "title": null, "tickColor": "#222", "tickSize": {"condition": {"test": "datum.value % 1 === 0", "value": -6}, "value": -3}}}}},
{"data": {"name": "labels"}, "transform": [{"filter": "datum.s === 'Ce9'"}], "mark": {"type": "text", "align": "right", "baseline": "alphabetic", "font": "DejaVu Sans", "fontSize": 20, "color": "#2AAA96"},
 "encoding": {"text": {"field": "label"}, "x": {"datum": 77.2, "type": "quantitative", "axis": {"orient": "top", "values": [20,25,30,35,40,45,50,55,60,65,70,75,80], "labels": false, "domain": false, "grid": false, "title": null, "tickColor": "#222", "tickSize": {"condition": {"test": "datum.value % 10 === 0", "value": -6}, "value": -3}}},
  "y": {"datum": 2.39, "type": "quantitative", "axis": {"orient": "right", "values": [0,0.5,1,1.5,2,2.5,3], "labels": false, "domain": false, "grid": false, "title": null, "tickColor": "#222", "tickSize": {"condition": {"test": "datum.value % 1 === 0", "value": -6}, "value": -3}}}}}
]},
{"width": 355, "height": 109, "resolve": {"axis": {"x": "independent", "y": "independent"}}, "layer": [
{"data": {"name": "Ce5"}, "mark": {"type": "line", "color": "#3DC389", "strokeWidth": 1},
 "encoding": {"x": {"field": "x", "type": "quantitative", "scale": {"domain": [20, 80], "nice": false, "zero": false}, "axis": {"orient": "bottom", "values": [20,25,30,35,40,45,50,55,60,65,70,75,80], "labels": false, "domain": false, "grid": false, "title": null, "tickColor": "#222", "tickSize": {"condition": {"test": "datum.value % 10 === 0", "value": -6}, "value": -3}}},
  "y": {"field": "y", "type": "quantitative", "scale": {"domain": [-0.45, 3.6], "nice": false, "zero": false}, "axis": {"orient": "left", "values": [0,0.5,1,1.5,2,2.5,3], "labels": false, "domain": false, "grid": false, "title": null, "tickColor": "#222", "tickSize": {"condition": {"test": "datum.value % 1 === 0", "value": -6}, "value": -3}}}}},
{"data": {"name": "labels"}, "transform": [{"filter": "datum.s === 'Ce5'"}], "mark": {"type": "text", "align": "right", "baseline": "alphabetic", "font": "DejaVu Sans", "fontSize": 20, "color": "#3DC389"},
 "encoding": {"text": {"field": "label"}, "x": {"datum": 77.2, "type": "quantitative", "axis": {"orient": "top", "values": [20,25,30,35,40,45,50,55,60,65,70,75,80], "labels": false, "domain": false, "grid": false, "title": null, "tickColor": "#222", "tickSize": {"condition": {"test": "datum.value % 10 === 0", "value": -6}, "value": -3}}},
  "y": {"datum": 2.39, "type": "quantitative", "axis": {"orient": "right", "values": [0,0.5,1,1.5,2,2.5,3], "labels": false, "domain": false, "grid": false, "title": null, "tickColor": "#222", "tickSize": {"condition": {"test": "datum.value % 1 === 0", "value": -6}, "value": -3}}}}}
]},
{"width": 355, "height": 109, "resolve": {"axis": {"x": "independent", "y": "independent"}}, "layer": [
{"data": {"name": "Ce4"}, "mark": {"type": "line", "color": "#7ADB78", "strokeWidth": 1},
 "encoding": {"x": {"field": "x", "type": "quantitative", "scale": {"domain": [20, 80], "nice": false, "zero": false}, "axis": {"orient": "bottom", "values": [20,25,30,35,40,45,50,55,60,65,70,75,80], "labels": false, "domain": false, "grid": false, "title": null, "tickColor": "#222", "tickSize": {"condition": {"test": "datum.value % 10 === 0", "value": -6}, "value": -3}}},
  "y": {"field": "y", "type": "quantitative", "scale": {"domain": [-0.45, 3.6], "nice": false, "zero": false}, "axis": {"orient": "left", "values": [0,0.5,1,1.5,2,2.5,3], "labels": false, "domain": false, "grid": false, "title": null, "tickColor": "#222", "tickSize": {"condition": {"test": "datum.value % 1 === 0", "value": -6}, "value": -3}}}}},
{"data": {"name": "labels"}, "transform": [{"filter": "datum.s === 'Ce4'"}], "mark": {"type": "text", "align": "right", "baseline": "alphabetic", "font": "DejaVu Sans", "fontSize": 20, "color": "#7ADB78"},
 "encoding": {"text": {"field": "label"}, "x": {"datum": 77.2, "type": "quantitative", "axis": {"orient": "top", "values": [20,25,30,35,40,45,50,55,60,65,70,75,80], "labels": false, "domain": false, "grid": false, "title": null, "tickColor": "#222", "tickSize": {"condition": {"test": "datum.value % 10 === 0", "value": -6}, "value": -3}}},
  "y": {"datum": 2.39, "type": "quantitative", "axis": {"orient": "right", "values": [0,0.5,1,1.5,2,2.5,3], "labels": false, "domain": false, "grid": false, "title": null, "tickColor": "#222", "tickSize": {"condition": {"test": "datum.value % 1 === 0", "value": -6}, "value": -3}}}}}
]},
{"width": 355, "height": 109, "resolve": {"axis": {"x": "independent", "y": "independent"}}, "layer": [
{"data": {"name": "Ce3"}, "mark": {"type": "line", "color": "#B5E339", "strokeWidth": 1},
 "encoding": {"x": {"field": "x", "type": "quantitative", "scale": {"domain": [20, 80], "nice": false, "zero": false}, "axis": {"orient": "bottom", "values": [20,25,30,35,40,45,50,55,60,65,70,75,80], "labels": false, "domain": false, "grid": false, "title": null, "tickColor": "#222", "tickSize": {"condition": {"test": "datum.value % 10 === 0", "value": -6}, "value": -3}}},
  "y": {"field": "y", "type": "quantitative", "scale": {"domain": [-0.45, 3.6], "nice": false, "zero": false}, "axis": {"orient": "left", "values": [0,0.5,1,1.5,2,2.5,3], "labels": false, "domain": false, "grid": false, "title": null, "tickColor": "#222", "tickSize": {"condition": {"test": "datum.value % 1 === 0", "value": -6}, "value": -3}}}}},
{"data": {"name": "labels"}, "transform": [{"filter": "datum.s === 'Ce3'"}], "mark": {"type": "text", "align": "right", "baseline": "alphabetic", "font": "DejaVu Sans", "fontSize": 20, "color": "#B5E339"},
 "encoding": {"text": {"field": "label"}, "x": {"datum": 77.2, "type": "quantitative", "axis": {"orient": "top", "values": [20,25,30,35,40,45,50,55,60,65,70,75,80], "labels": false, "domain": false, "grid": false, "title": null, "tickColor": "#222", "tickSize": {"condition": {"test": "datum.value % 10 === 0", "value": -6}, "value": -3}}},
  "y": {"datum": 2.39, "type": "quantitative", "axis": {"orient": "right", "values": [0,0.5,1,1.5,2,2.5,3], "labels": false, "domain": false, "grid": false, "title": null, "tickColor": "#222", "tickSize": {"condition": {"test": "datum.value % 1 === 0", "value": -6}, "value": -3}}}}}
]},
{"width": 355, "height": 109, "resolve": {"axis": {"x": "independent", "y": "independent"}},
 "title": {"text": "(b)", "orient": "bottom", "font": "Liberation Serif", "fontSize": 24, "fontWeight": "bold", "color": "#111", "dx": -10, "offset": 20},
 "layer": [
{"data": {"name": "Ce0"}, "mark": {"type": "line", "color": "#222", "strokeWidth": 1},
 "encoding": {"x": {"field": "x", "type": "quantitative", "scale": {"domain": [20, 80], "nice": false, "zero": false}, "axis": {"orient": "bottom", "values": [20,25,30,35,40,45,50,55,60,65,70,75,80], "labels": true, "labelExpr": "datum.value % 10 === 0 ? datum.label : ''", "labelFlush": false, "labelPadding": 8, "labelFont": "Liberation Sans", "labelFontSize": 15, "labelColor": "#222", "domain": false, "grid": false, "title": "2 θ (°)", "titleFont": "Liberation Sans", "titleFontSize": 17, "titleFontWeight": "normal", "titleColor": "#222", "titlePadding": 20, "tickColor": "#222", "tickSize": {"condition": {"test": "datum.value % 10 === 0", "value": -6}, "value": -3}}},
  "y": {"field": "y", "type": "quantitative", "scale": {"domain": [-0.45, 3.6], "nice": false, "zero": false}, "axis": {"orient": "left", "values": [0,0.5,1,1.5,2,2.5,3], "labels": false, "domain": false, "grid": false, "title": null, "tickColor": "#222", "tickSize": {"condition": {"test": "datum.value % 1 === 0", "value": -6}, "value": -3}}}}},
{"data": {"name": "labels"}, "transform": [{"filter": "datum.s === 'Ce0'"}], "mark": {"type": "text", "align": "right", "baseline": "alphabetic", "font": "DejaVu Sans", "fontSize": 20, "color": "#222"},
 "encoding": {"text": {"field": "label"}, "x": {"datum": 77.2, "type": "quantitative", "axis": {"orient": "top", "values": [20,25,30,35,40,45,50,55,60,65,70,75,80], "labels": false, "domain": false, "grid": false, "title": null, "tickColor": "#222", "tickSize": {"condition": {"test": "datum.value % 10 === 0", "value": -6}, "value": -3}}},
  "y": {"datum": 2.39, "type": "quantitative", "axis": {"orient": "right", "values": [0,0.5,1,1.5,2,2.5,3], "labels": false, "domain": false, "grid": false, "title": null, "tickColor": "#222", "tickSize": {"condition": {"test": "datum.value % 1 === 0", "value": -6}, "value": -3}}}}},
{"data": {"name": "peaks"}, "transform": [{"filter": "datum.c === 'Ce'"}], "mark": {"type": "text", "baseline": "bottom", "dy": -3, "font": "Liberation Sans", "fontSize": 12, "fontWeight": "bold", "color": "#111"},
 "encoding": {"text": {"field": "hkl"}, "x": {"field": "x", "type": "quantitative", "axis": null}, "y": {"field": "y", "type": "quantitative", "axis": null}}}
]}
]
}
]
}
